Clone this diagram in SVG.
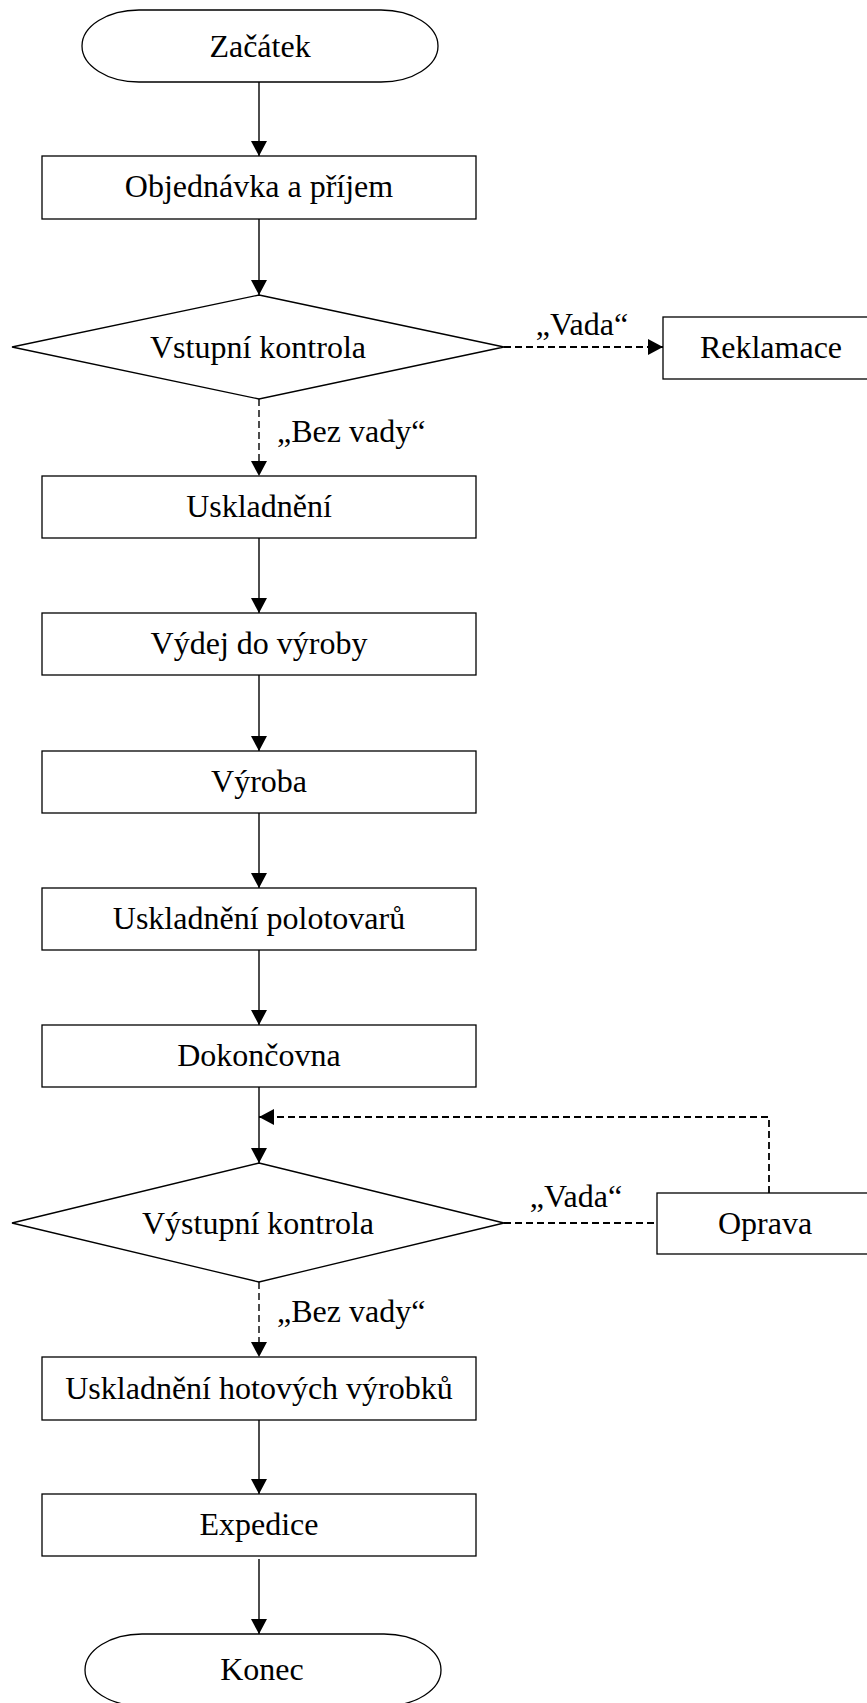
<svg xmlns="http://www.w3.org/2000/svg" width="867" height="1703" viewBox="0 0 867 1703">
<defs>
<style>
.shape{fill:#fff;stroke:#000;stroke-width:1.3}
.t{font-family:"Liberation Serif","Times New Roman",serif;font-size:32px;fill:#000;text-anchor:middle}
.lbl{font-family:"Liberation Serif","Times New Roman",serif;font-size:32px;fill:#000}
.c{fill:none;stroke:#000;stroke-width:1.4}
.d{fill:none;stroke:#000;stroke-width:1.8;stroke-dasharray:7 4}
</style>
<marker id="ah" markerUnits="userSpaceOnUse" markerWidth="16" markerHeight="16" refX="15" refY="8" orient="auto">
<path d="M0,0 L15,8 L0,16 Z" fill="#000"/>
</marker>
</defs>
<rect width="867" height="1703" fill="#fff"/>
<g id="connectors">
<line class="c" x1="259" y1="82" x2="259" y2="156" marker-end="url(#ah)"/>
<line class="c" x1="259" y1="219" x2="259" y2="295" marker-end="url(#ah)"/>
<line class="d" x1="504" y1="347" x2="663" y2="347" marker-end="url(#ah)"/>
<line class="d" style="stroke-width:1.4" x1="259" y1="399" x2="259" y2="476" marker-end="url(#ah)"/>
<line class="c" x1="259" y1="538" x2="259" y2="613" marker-end="url(#ah)"/>
<line class="c" x1="259" y1="675" x2="259" y2="751" marker-end="url(#ah)"/>
<line class="c" x1="259" y1="813" x2="259" y2="888" marker-end="url(#ah)"/>
<line class="c" x1="259" y1="950" x2="259" y2="1025" marker-end="url(#ah)"/>
<line class="c" x1="259" y1="1087" x2="259" y2="1163" marker-end="url(#ah)"/>
<polyline class="d" points="769,1193 769,1117 259,1117" marker-end="url(#ah)"/>
<line class="d" x1="504" y1="1223" x2="657" y2="1223"/>
<line class="d" style="stroke-width:1.4" x1="259" y1="1282" x2="259" y2="1357" marker-end="url(#ah)"/>
<line class="c" x1="259" y1="1420" x2="259" y2="1494" marker-end="url(#ah)"/>
<line class="c" x1="259" y1="1559" x2="259" y2="1634" marker-end="url(#ah)"/>
<text class="lbl" x="582" y="335" text-anchor="middle">„Vada“</text>
<text class="lbl" x="277" y="442">„Bez vady“</text>
<text class="lbl" x="576" y="1207" text-anchor="middle">„Vada“</text>
<text class="lbl" x="277" y="1322">„Bez vady“</text>
</g>
<g id="start">
<rect class="shape" x="82" y="10" width="356" height="72" rx="57" ry="36"/>
<text class="t" x="260" y="57">Začátek</text>
</g>
<g id="objednavka">
<rect class="shape" x="42" y="156" width="434" height="63"/>
<text class="t" x="259" y="197">Objednávka a příjem</text>
</g>
<g id="vstupni">
<polygon class="shape" points="259,295 504,347 259,399 12,347"/>
<text class="t" x="258" y="358">Vstupní kontrola</text>
</g>
<g id="reklamace">
<rect class="shape" x="663" y="317" width="220" height="62"/>
<text class="t" x="771" y="358">Reklamace</text>
</g>
<g id="uskladneni">
<rect class="shape" x="42" y="476" width="434" height="62"/>
<text class="t" x="259" y="517">Uskladnění</text>
</g>
<g id="vydej">
<rect class="shape" x="42" y="613" width="434" height="62"/>
<text class="t" x="259" y="654">Výdej do výroby</text>
</g>
<g id="vyroba">
<rect class="shape" x="42" y="751" width="434" height="62"/>
<text class="t" x="259" y="792">Výroba</text>
</g>
<g id="polotovary">
<rect class="shape" x="42" y="888" width="434" height="62"/>
<text class="t" x="259" y="929">Uskladnění polotovarů</text>
</g>
<g id="dokoncovna">
<rect class="shape" x="42" y="1025" width="434" height="62"/>
<text class="t" x="259" y="1066">Dokončovna</text>
</g>
<g id="vystupni">
<polygon class="shape" points="259,1163 504,1223 259,1282 12,1223"/>
<text class="t" x="258" y="1234">Výstupní kontrola</text>
</g>
<g id="oprava">
<rect class="shape" x="657" y="1193" width="220" height="61"/>
<text class="t" x="765" y="1234">Oprava</text>
</g>
<g id="hotove">
<rect class="shape" x="42" y="1357" width="434" height="63"/>
<text class="t" x="259" y="1399">Uskladnění hotových výrobků</text>
</g>
<g id="expedice">
<rect class="shape" x="42" y="1494" width="434" height="62"/>
<text class="t" x="259" y="1535">Expedice</text>
</g>
<g id="konec">
<rect class="shape" x="85" y="1634" width="356" height="72" rx="57" ry="36"/>
<text class="t" x="262" y="1680">Konec</text>
</g>
</svg>
